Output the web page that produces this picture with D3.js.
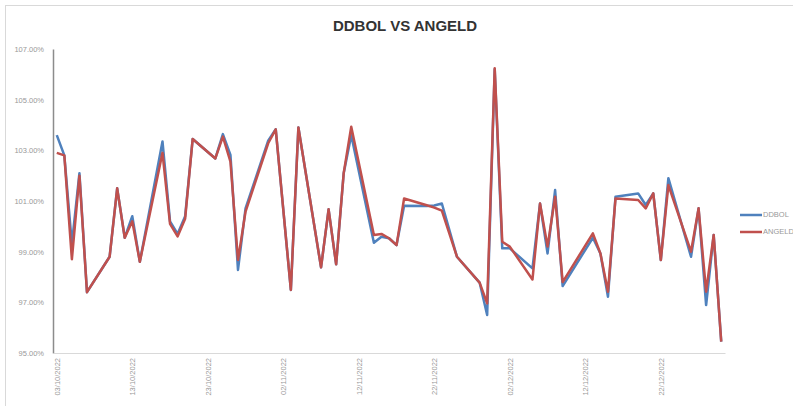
<!DOCTYPE html>
<html>
<head>
<meta charset="utf-8">
<script src="https://cdn.jsdelivr.net/npm/d3@7"></script>
<style>
  body { margin: 0; background: #fff; }
  svg { display: block; font-family: "Liberation Sans", Arial, sans-serif; }
</style>
</head>
<body>
<svg id="chart" width="793" height="406"></svg>
<script>
// Daily ratio of DDBOL and ANGELD, Oct - Dec 2022

let dates = [
  "03/10/2022", "04/10/2022", "05/10/2022", "06/10/2022", "07/10/2022",
  "10/10/2022", "11/10/2022", "12/10/2022", "13/10/2022", "14/10/2022",
  "17/10/2022", "18/10/2022", "19/10/2022", "20/10/2022", "21/10/2022",
  "24/10/2022", "25/10/2022", "26/10/2022", "27/10/2022", "28/10/2022",
  "31/10/2022", "01/11/2022", "03/11/2022", "04/11/2022",
  "07/11/2022", "08/11/2022", "09/11/2022", "10/11/2022", "11/11/2022",
  "14/11/2022", "15/11/2022", "16/11/2022", "17/11/2022", "18/11/2022",
  "21/11/2022", "22/11/2022", "23/11/2022", "25/11/2022",
  "28/11/2022", "29/11/2022", "30/11/2022", "01/12/2022", "02/12/2022",
  "05/12/2022", "06/12/2022", "07/12/2022", "08/12/2022", "09/12/2022",
  "13/12/2022", "14/12/2022", "15/12/2022", "16/12/2022",
  "19/12/2022", "20/12/2022", "21/12/2022", "22/12/2022", "23/12/2022",
  "26/12/2022", "27/12/2022", "28/12/2022", "29/12/2022", "30/12/2022"
];

let ddbol = [
  103.60, 102.80, 99.30, 102.10, 97.40,
  98.80, 101.50, 99.55, 100.40, 98.60,
  103.35, 100.20, 99.70, 100.40, 103.45,
  102.68, 103.64, 102.82, 98.28, 100.71,
  103.38, 103.83, 97.49, 103.90,
  98.38, 100.67, 98.50, 102.10, 103.60,
  99.35, 99.59, 99.53, 99.26, 100.81,
  100.80, 100.82, 100.90, 98.80,
  97.78, 96.50, 106.20, 99.13, 99.13,
  98.34, 100.90, 98.93, 101.43, 97.64,
  99.55, 98.93, 97.22, 101.17,
  101.30, 100.84, 101.30, 98.67, 101.90,
  98.80, 100.71, 96.89, 99.66, 95.45
];

let angeld = [
  102.90, 102.80, 98.70, 102.00, 97.40,
  98.80, 101.50, 99.55, 100.20, 98.60,
  102.90, 100.10, 99.60, 100.30, 103.45,
  102.68, 103.54, 102.55, 98.67, 100.58,
  103.28, 103.83, 97.49, 103.90,
  98.38, 100.67, 98.50, 102.10, 103.93,
  99.66, 99.70, 99.53, 99.26, 101.10,
  100.83, 100.74, 100.62, 98.80,
  97.78, 96.96, 106.24, 99.39, 99.20,
  97.90, 100.90, 99.20, 101.17, 97.80,
  99.72, 98.93, 97.42, 101.10,
  101.04, 100.71, 101.30, 98.67, 101.63,
  99.00, 100.71, 97.42, 99.66, 95.45
];

let yTicks = [95, 97, 99, 101, 103, 105, 107];
let xTickLabels = [
  "03/10/2022", "13/10/2022", "23/10/2022", "02/11/2022", "12/11/2022",
  "22/11/2022", "02/12/2022", "12/12/2022", "22/12/2022"
];

let seriesNames = ["DDBOL", "ANGELD"];
let seriesColors = ["#4F81BD", "#C0504D"];

let parseDate = d3.timeParse("%d/%m/%Y");
let DAY = 24 * 3600 * 1000;

let svg = d3.select("#chart");

// chart border
svg.append("rect")
  .attr("x", 5.5).attr("y", 5.5)
  .attr("width", 790).attr("height", 410)
  .attr("fill", "none")
  .attr("stroke", "#d9d9d9");

svg.append("text")
  .attr("x", 405).attr("y", 31)
  .attr("text-anchor", "middle")
  .style("font-size", "15px")
  .style("font-weight", "bold")
  .attr("fill", "#333333")
  .text("DDBOL VS ANGELD");

let plot = { left: 53, right: 725, top: 49, bottom: 353 };

let firstDate = parseDate(dates[0]);
let lastDate = parseDate(dates[dates.length - 1]);

let x = d3.scaleTime()
  .domain([new Date(+firstDate - DAY / 2), new Date(+lastDate + DAY / 2)])
  .range([plot.left, plot.right]);

let y = d3.scaleLinear()
  .domain([95, 107])
  .range([plot.bottom, plot.top]);

// y axis
let yAxis = svg.append("g")
  .attr("transform", "translate(" + plot.left + ",0)")
  .call(d3.axisLeft(y)
    .tickValues(yTicks)
    .tickSize(0)
    .tickPadding(9)
    .tickFormat(function(d) { return d.toFixed(2) + "%"; }));
yAxis.select(".domain").attr("stroke", "#8c8c8c").attr("stroke-width", 1.5);
yAxis.selectAll("text")
  .style("font-size", "7.5px")
  .attr("fill", "#999999");

// x axis
let xAxis = svg.append("g")
  .attr("transform", "translate(0," + plot.bottom + ")")
  .call(d3.axisBottom(x)
    .tickValues(xTickLabels.map(parseDate))
    .tickSize(0)
    .tickFormat(d3.timeFormat("%d/%m/%Y")));
xAxis.select(".domain").attr("stroke", "#d9d9d9").attr("stroke-width", 1);
xAxis.selectAll("text")
  .style("font-size", "7.5px")
  .attr("fill", "#999999")
  .attr("text-anchor", "end")
  .attr("dy", "0.32em")
  .attr("transform", "translate(0,5) rotate(-90)")
  .attr("x", 0).attr("y", 0);

let line = d3.line()
  .x(function(d) { return x(d.date); })
  .y(function(d) { return y(d.value); });

[ddbol, angeld].forEach(function(values, i) {
  let pts = values.map(function(v, j) {
    return { date: parseDate(dates[j]), value: v };
  });
  svg.append("path")
    .datum(pts)
    .attr("d", line)
    .attr("fill", "none")
    .attr("stroke", seriesColors[i])
    .attr("stroke-width", 2.5)
    .attr("stroke-linejoin", "round");
});

// legend
let legend = svg.append("g").attr("transform", "translate(740,215)");
seriesNames.forEach(function(name, i) {
  let g = legend.append("g").attr("transform", "translate(0," + (i * 17) + ")");
  g.append("line")
    .attr("x1", 0).attr("x2", 22)
    .attr("stroke", seriesColors[i])
    .attr("stroke-width", 2.5);
  g.append("text")
    .attr("x", 23).attr("dy", "0.32em")
    .style("font-size", "7.5px")
    .attr("fill", "#999999")
    .text(name);
});
</script>
</body>
</html>
